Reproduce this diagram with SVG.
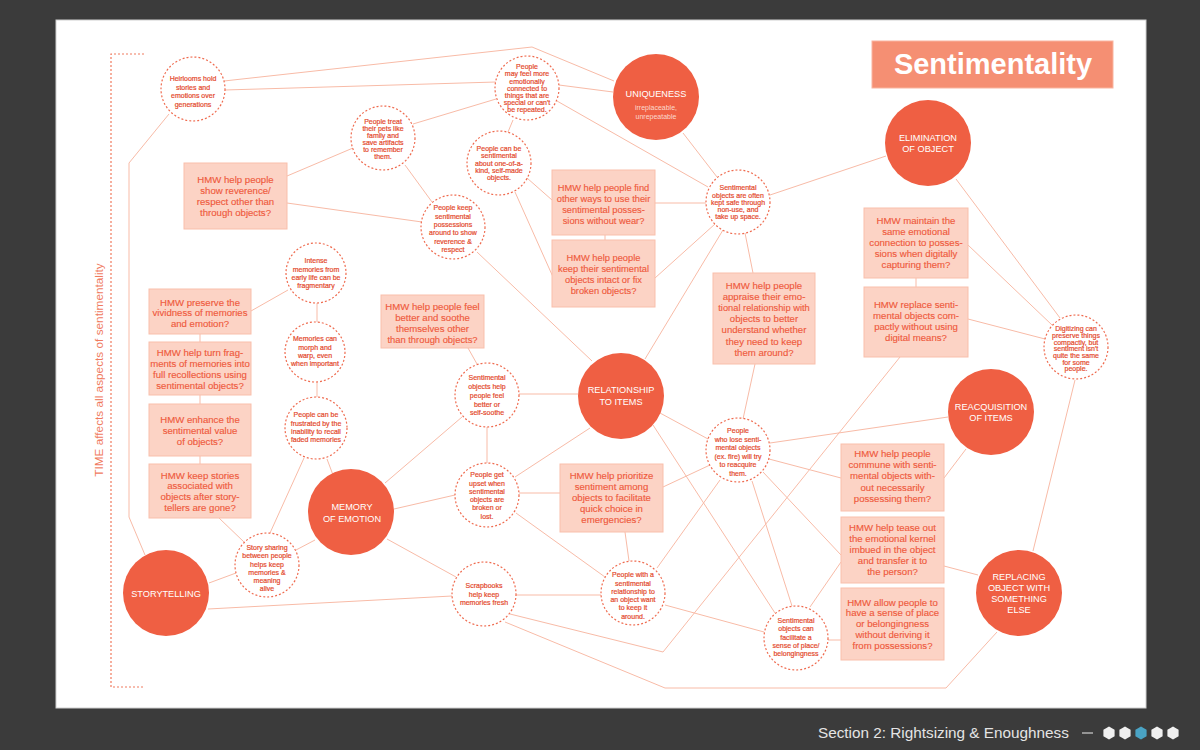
<svg xmlns="http://www.w3.org/2000/svg" width="1200" height="750" viewBox="0 0 1200 750">
<defs>
<style>
.ln{stroke:#f8bba7;stroke-width:1;fill:none}
.big{fill:#ef5f43}
.dc{fill:#fff;stroke:#ef6b4f;stroke-width:1.2;stroke-dasharray:2 2}
.bx{fill:#fcd3c5;stroke:#f9bfab;stroke-width:1}
text{font-family:"Liberation Sans",Arial,sans-serif;text-anchor:middle}
.bt{font-size:9.6px;fill:#ef5a3d;stroke:#ef5a3d;stroke-width:0.15}
.ct{font-size:7px;fill:#e4492d;stroke:#e4492d;stroke-width:0.2}
.wt{font-size:9.2px;fill:#ffffff}
.st{font-size:7px;fill:#fcd9cd}
</style>
</defs>
<rect x="0" y="0" width="1200" height="750" fill="#3b3b3b"/>
<rect x="56" y="20" width="1090" height="688" fill="#ffffff" stroke="#cfcfcf" stroke-width="1"/>

<g id="title">
<rect x="872" y="41" width="241" height="47" fill="#f58f73" stroke="#f9b49f"/>
<text x="993" y="74" style="font-size:29px;font-weight:bold;fill:#fff">Sentimentality</text>
</g>

<g id="time-bracket">
<path d="M144 54 H111 V687 H144" fill="none" stroke="#f07a5e" stroke-width="1.2" stroke-dasharray="2 2"/>
<text transform="translate(103,370) rotate(-90)" style="font-size:11.8px;fill:#f07a5e">TIME affects all aspects of sentimentality</text>
</g>

<g id="connectors">
<polyline class="ln" points="224,81 532,47 614,81"/>
<line class="ln" x1="225" y1="90" x2="496" y2="82"/>
<polyline class="ln" points="169,114 129,163 129,517 145,555"/>
<line class="ln" x1="559" y1="85" x2="613" y2="92"/>
<line class="ln" x1="557" y1="101" x2="708" y2="187"/>
<line class="ln" x1="413" y1="124" x2="496" y2="99"/>
<line class="ln" x1="287" y1="176" x2="353" y2="148"/>
<line class="ln" x1="287" y1="203" x2="422" y2="222"/>
<line class="ln" x1="405" y1="165" x2="432" y2="202"/>
<line class="ln" x1="513" y1="120" x2="508" y2="132"/>
<line class="ln" x1="527" y1="178" x2="552" y2="200"/>
<line class="ln" x1="515" y1="192" x2="553" y2="277"/>
<line class="ln" x1="655" y1="203" x2="706" y2="203"/>
<line class="ln" x1="605" y1="235" x2="605" y2="240"/>
<line class="ln" x1="683" y1="133" x2="717" y2="177"/>
<line class="ln" x1="770" y1="195" x2="886" y2="156"/>
<line class="ln" x1="715" y1="224" x2="655" y2="278"/>
<line class="ln" x1="723" y1="230" x2="645" y2="359"/>
<line class="ln" x1="745" y1="233" x2="753" y2="273"/>
<line class="ln" x1="755" y1="364" x2="743" y2="419"/>
<line class="ln" x1="660" y1="413" x2="708" y2="439"/>
<line class="ln" x1="653" y1="425" x2="775" y2="613"/>
<line class="ln" x1="769" y1="459" x2="841" y2="478"/>
<line class="ln" x1="770" y1="443" x2="948" y2="417"/>
<line class="ln" x1="966" y1="449" x2="944" y2="478"/>
<line class="ln" x1="968" y1="319" x2="1045" y2="339"/>
<line class="ln" x1="968" y1="245" x2="1052" y2="325"/>
<line class="ln" x1="956" y1="179" x2="1060" y2="318"/>
<line class="ln" x1="1075" y1="380" x2="1033" y2="551"/>
<line class="ln" x1="916" y1="278" x2="916" y2="287"/>
<polyline class="ln" points="900,357 663,652 510,614"/>
<polyline class="ln" points="505,622 665,688 946,688 997,632"/>
<line class="ln" x1="665" y1="605" x2="764" y2="632"/>
<line class="ln" x1="657" y1="568" x2="720" y2="480"/>
<line class="ln" x1="629" y1="561" x2="625" y2="532"/>
<line class="ln" x1="516" y1="513" x2="605" y2="577"/>
<line class="ln" x1="516" y1="595" x2="601" y2="595"/>
<line class="ln" x1="710" y1="465" x2="663" y2="487"/>
<line class="ln" x1="752" y1="481" x2="792" y2="606"/>
<line class="ln" x1="763" y1="472" x2="841" y2="555"/>
<line class="ln" x1="841" y1="562" x2="810" y2="607"/>
<line class="ln" x1="828" y1="640" x2="841" y2="640"/>
<line class="ln" x1="944" y1="566" x2="978" y2="575"/>
<line class="ln" x1="519" y1="493" x2="560" y2="493"/>
<line class="ln" x1="515" y1="477" x2="590" y2="428"/>
<line class="ln" x1="487" y1="427" x2="487" y2="463"/>
<line class="ln" x1="519" y1="394" x2="578" y2="394"/>
<line class="ln" x1="477" y1="364" x2="468" y2="348"/>
<line class="ln" x1="462" y1="417" x2="385" y2="483"/>
<line class="ln" x1="455" y1="495" x2="394" y2="509"/>
<line class="ln" x1="387" y1="539" x2="456" y2="577"/>
<line class="ln" x1="452" y1="596" x2="208" y2="609"/>
<line class="ln" x1="477" y1="252" x2="592" y2="361"/>
<line class="ln" x1="251" y1="311" x2="288" y2="290"/>
<line class="ln" x1="317" y1="303" x2="317" y2="322"/>
<line class="ln" x1="317" y1="382" x2="317" y2="397"/>
<line class="ln" x1="327" y1="459" x2="333" y2="475"/>
<line class="ln" x1="304" y1="458" x2="270" y2="533"/>
<line class="ln" x1="296" y1="550" x2="315" y2="540"/>
<line class="ln" x1="236" y1="573" x2="209" y2="583"/>
<line class="ln" x1="219" y1="518" x2="244" y2="542"/>
<line class="ln" x1="200" y1="334" x2="200" y2="342"/>
<line class="ln" x1="200" y1="395" x2="200" y2="404"/>
<line class="ln" x1="200" y1="456" x2="200" y2="464"/>
</g>

<g id="uniqueness"><circle class="big" cx="656" cy="97" r="43"/><text class="wt" x="656" y="97.3">UNIQUENESS</text><text class="st" x="656" y="109.5">irreplaceable,</text><text class="st" x="656" y="118.5">unrepeatable</text></g>
<g id="elimination"><circle class="big" cx="928" cy="143" r="43"/><text class="wt" x="928" y="141.3">ELIMINATION</text><text class="wt" x="928" y="152.3">OF OBJECT</text></g>
<g id="relationship"><circle class="big" cx="621" cy="396" r="43"/><text class="wt" x="621" y="393.3">RELATIONSHIP</text><text class="wt" x="621" y="405.3">TO ITEMS</text></g>
<g id="reacquisition"><circle class="big" cx="991" cy="412" r="43"/><text class="wt" x="991" y="410.3">REACQUISITION</text><text class="wt" x="991" y="421.3">OF ITEMS</text></g>
<g id="memory"><circle class="big" cx="351" cy="512" r="43"/><text class="wt" x="352" y="510.3">MEMORY</text><text class="wt" x="352" y="522.3">OF EMOTION</text></g>
<g id="storytelling"><circle class="big" cx="166" cy="593" r="43"/><text class="wt" x="166" y="597.3">STORYTELLING</text></g>
<g id="replacing"><circle class="big" cx="1019" cy="593" r="43"/><text class="wt" x="1019" y="580.3">REPLACING</text><text class="wt" x="1019" y="591.3">OBJECT WITH</text><text class="wt" x="1019" y="602.3">SOMETHING</text><text class="wt" x="1019" y="613.3">ELSE</text></g>

<g id="heirlooms"><circle class="dc" cx="193" cy="89" r="32"/><text class="ct" x="193" y="81.2">Heirlooms hold</text><text class="ct" x="193" y="89.9">stories and</text><text class="ct" x="193" y="98.2">emotions over</text><text class="ct" x="193" y="106.5">generations</text></g>
<g id="feel-more"><circle class="dc" cx="527" cy="88" r="32"/><text class="ct" x="527" y="69.2">People</text><text class="ct" x="527" y="76.4">may feel more</text><text class="ct" x="527" y="83.6">emotionally</text><text class="ct" x="527" y="90.8">connected to</text><text class="ct" x="527" y="98">things that are</text><text class="ct" x="527" y="105.2">special or can't</text><text class="ct" x="527" y="112.4">be repeated.</text></g>
<g id="pets"><circle class="dc" cx="383" cy="138" r="32"/><text class="ct" x="383" y="124.2">People treat</text><text class="ct" x="383" y="131.2">their pets like</text><text class="ct" x="383" y="138.2">family and</text><text class="ct" x="383" y="145.2">save artifacts</text><text class="ct" x="383" y="152.2">to remember</text><text class="ct" x="383" y="159.2">them.</text></g>
<g id="one-of-a-kind"><circle class="dc" cx="499" cy="163" r="32"/><text class="ct" x="499" y="151.2">People can be</text><text class="ct" x="499" y="158.4">sentimental</text><text class="ct" x="499" y="165.6">about one-of-a-</text><text class="ct" x="499" y="172.8">kind, self-made</text><text class="ct" x="499" y="180">objects.</text></g>
<g id="keep-possessions"><circle class="dc" cx="453" cy="227" r="32"/><text class="ct" x="453" y="210.2">People keep</text><text class="ct" x="453" y="218.6">sentimental</text><text class="ct" x="453" y="227">possessions</text><text class="ct" x="453" y="235.4">around to show</text><text class="ct" x="453" y="243.8">reverence &amp;</text><text class="ct" x="453" y="252.2">respect</text></g>
<g id="kept-safe"><circle class="dc" cx="738" cy="202" r="32"/><text class="ct" x="738" y="190.2">Sentimental</text><text class="ct" x="738" y="197.5">objects are often</text><text class="ct" x="738" y="204.8">kept safe through</text><text class="ct" x="738" y="212.1">non-use, and</text><text class="ct" x="738" y="219.4">take up space.</text></g>
<g id="intense"><circle class="dc" cx="316" cy="273" r="30"/><text class="ct" x="316" y="263.2">Intense</text><text class="ct" x="316" y="271.5">memories from</text><text class="ct" x="316" y="279.8">early life can be</text><text class="ct" x="316" y="288.1">fragmentary</text></g>
<g id="morph"><circle class="dc" cx="315" cy="352" r="30"/><text class="ct" x="315" y="341.2">Memories can</text><text class="ct" x="315" y="349.5">morph and</text><text class="ct" x="315" y="357.8">warp, even</text><text class="ct" x="315" y="366.1">when important</text></g>
<g id="frustrated"><circle class="dc" cx="316" cy="428" r="31"/><text class="ct" x="316" y="417.2">People can be</text><text class="ct" x="316" y="425.5">frustrated by the</text><text class="ct" x="316" y="433.8">inability to recall</text><text class="ct" x="316" y="442.1">faded memories</text></g>
<g id="soothe"><circle class="dc" cx="487" cy="395" r="32"/><text class="ct" x="487" y="380.2">Sentimental</text><text class="ct" x="487" y="389">objects help</text><text class="ct" x="487" y="397.8">people feel</text><text class="ct" x="487" y="406.6">better or</text><text class="ct" x="487" y="415.4">self-soothe</text></g>
<g id="upset"><circle class="dc" cx="487" cy="495" r="32"/><text class="ct" x="487" y="477.2">People get</text><text class="ct" x="487" y="485.5">upset when</text><text class="ct" x="487" y="493.8">sentimental</text><text class="ct" x="487" y="502.1">objects are</text><text class="ct" x="487" y="510.4">broken or</text><text class="ct" x="487" y="518.7">lost.</text></g>
<g id="scrapbooks"><circle class="dc" cx="484" cy="594" r="32"/><text class="ct" x="484" y="588.2">Scrapbooks</text><text class="ct" x="484" y="596.7">help keep</text><text class="ct" x="484" y="605.2">memories fresh</text></g>
<g id="story-sharing"><circle class="dc" cx="267" cy="565" r="32"/><text class="ct" x="267" y="550.2">Story sharing</text><text class="ct" x="267" y="558.4">between people</text><text class="ct" x="267" y="566.6">helps keep</text><text class="ct" x="267" y="574.8">memories &amp;</text><text class="ct" x="267" y="583">meaning</text><text class="ct" x="267" y="591.2">alive</text></g>
<g id="keep-around"><circle class="dc" cx="633" cy="593" r="32"/><text class="ct" x="633" y="577.2">People with a</text><text class="ct" x="633" y="585.5">sentimental</text><text class="ct" x="633" y="593.8">relationship to</text><text class="ct" x="633" y="602.1">an object want</text><text class="ct" x="633" y="610.4">to keep it</text><text class="ct" x="633" y="618.7">around.</text></g>
<g id="sense-of-place"><circle class="dc" cx="796" cy="638" r="32"/><text class="ct" x="796" y="623.2">Sentimental</text><text class="ct" x="796" y="631.4">objects can</text><text class="ct" x="796" y="639.6">facilitate a</text><text class="ct" x="796" y="647.8">sense of place/</text><text class="ct" x="796" y="656">belongingness</text></g>
<g id="lose"><circle class="dc" cx="738" cy="450" r="32"/><text class="ct" x="738" y="433.2">People</text><text class="ct" x="738" y="441.7">who lose senti-</text><text class="ct" x="738" y="450.2">mental objects</text><text class="ct" x="738" y="458.7">(ex. fire) will try</text><text class="ct" x="738" y="467.2">to reacquire</text><text class="ct" x="738" y="475.7">them.</text></g>
<g id="digitizing"><circle class="dc" cx="1076" cy="347" r="32"/><text class="ct" x="1076" y="331.2">Digitizing can</text><text class="ct" x="1076" y="337.9">preserve things</text><text class="ct" x="1076" y="344.6">compactly, but</text><text class="ct" x="1076" y="351.3">sentiment isn't</text><text class="ct" x="1076" y="358">quite the same</text><text class="ct" x="1076" y="364.7">for some</text><text class="ct" x="1076" y="371.4">people.</text></g>

<g id="hmw-reverence"><rect class="bx" x="184" y="163" width="103" height="66"/><text class="bt" x="235.5" y="183">HMW help people</text><text class="bt" x="235.5" y="194">show reverence/</text><text class="bt" x="235.5" y="205">respect other than</text><text class="bt" x="235.5" y="216">through objects?</text></g>
<g id="hmw-other-ways"><rect class="bx" x="552" y="170" width="103" height="65"/><text class="bt" x="603.5" y="190.5" style="font-size:9.3px">HMW help people find</text><text class="bt" x="603.5" y="201.8" style="font-size:9.3px">other ways to use their</text><text class="bt" x="603.5" y="213" style="font-size:9.3px">sentimental posses-</text><text class="bt" x="603.5" y="224.3" style="font-size:9.3px">sions without wear?</text></g>
<g id="hmw-intact"><rect class="bx" x="552" y="240" width="103" height="67"/><text class="bt" x="603.5" y="260.5" style="font-size:9.3px">HMW help people</text><text class="bt" x="603.5" y="271.5" style="font-size:9.3px">keep their sentimental</text><text class="bt" x="603.5" y="282.5" style="font-size:9.3px">objects intact or fix</text><text class="bt" x="603.5" y="293.5" style="font-size:9.3px">broken objects?</text></g>
<g id="hmw-appraise"><rect class="bx" x="713" y="273" width="102" height="91"/><text class="bt" x="764" y="288.5">HMW help people</text><text class="bt" x="764" y="299.7">appraise their emo-</text><text class="bt" x="764" y="310.9" style="font-size:9.3px">tional relationship with</text><text class="bt" x="764" y="322.1">objects to better</text><text class="bt" x="764" y="333.3">understand whether</text><text class="bt" x="764" y="344.5">they need to keep</text><text class="bt" x="764" y="355.7">them around?</text></g>
<g id="hmw-maintain"><rect class="bx" x="864" y="208" width="104" height="70"/><text class="bt" x="916" y="223.5">HMW maintain the</text><text class="bt" x="916" y="234.5">same emotional</text><text class="bt" x="916" y="245.5">connection to posses-</text><text class="bt" x="916" y="256.5">sions when digitally</text><text class="bt" x="916" y="267.5">capturing them?</text></g>
<g id="hmw-replace"><rect class="bx" x="864" y="287" width="104" height="70"/><text class="bt" x="916" y="307.5">HMW replace senti-</text><text class="bt" x="916" y="318.8">mental objects com-</text><text class="bt" x="916" y="330">pactly without using</text><text class="bt" x="916" y="341.3">digital means?</text></g>
<g id="hmw-commune"><rect class="bx" x="841" y="444" width="103" height="67"/><text class="bt" x="892.5" y="456.5">HMW help people</text><text class="bt" x="892.5" y="468">commune with senti-</text><text class="bt" x="892.5" y="479.3">mental objects with-</text><text class="bt" x="892.5" y="490.6">out necessarily</text><text class="bt" x="892.5" y="502">possessing them?</text></g>
<g id="hmw-tease"><rect class="bx" x="841" y="517" width="103" height="66"/><text class="bt" x="892.5" y="530.5">HMW help tease out</text><text class="bt" x="892.5" y="541.5">the emotional kernel</text><text class="bt" x="892.5" y="552.5">imbued in the object</text><text class="bt" x="892.5" y="563.5">and transfer it to</text><text class="bt" x="892.5" y="574.5">the person?</text></g>
<g id="hmw-allow"><rect class="bx" x="841" y="588" width="103" height="72"/><text class="bt" x="892.5" y="605.5">HMW allow people to</text><text class="bt" x="892.5" y="616.3">have a sense of place</text><text class="bt" x="892.5" y="627">or belongingness</text><text class="bt" x="892.5" y="637.8">without deriving it</text><text class="bt" x="892.5" y="648.6">from possessions?</text></g>
<g id="hmw-prioritize"><rect class="bx" x="560" y="464" width="103" height="68"/><text class="bt" x="611.5" y="478.5">HMW help prioritize</text><text class="bt" x="611.5" y="489.7">sentiment among</text><text class="bt" x="611.5" y="500.9">objects to facilitate</text><text class="bt" x="611.5" y="512.1">quick choice in</text><text class="bt" x="611.5" y="523.3">emergencies?</text></g>
<g id="hmw-feel-better"><rect class="bx" x="381" y="295" width="103" height="53"/><text class="bt" x="432.5" y="309.5">HMW help people feel</text><text class="bt" x="432.5" y="320.5">better and soothe</text><text class="bt" x="432.5" y="331.5">themselves other</text><text class="bt" x="432.5" y="342.5" style="font-size:9.4px">than through objects?</text></g>
<g id="hmw-preserve"><rect class="bx" x="149" y="289" width="102" height="45"/><text class="bt" x="200" y="305.5">HMW preserve the</text><text class="bt" x="200" y="316">vividness of memories</text><text class="bt" x="200" y="326.5">and emotion?</text></g>
<g id="hmw-fragments"><rect class="bx" x="149" y="342" width="102" height="53"/><text class="bt" x="200" y="355.5">HMW help turn frag-</text><text class="bt" x="200" y="366.5">ments of memories into</text><text class="bt" x="200" y="377.5">full recollections using</text><text class="bt" x="200" y="388.5">sentimental objects?</text></g>
<g id="hmw-enhance"><rect class="bx" x="149" y="404" width="102" height="52"/><text class="bt" x="200" y="422.5">HMW enhance the</text><text class="bt" x="200" y="433.5">sentimental value</text><text class="bt" x="200" y="444.5">of objects?</text></g>
<g id="hmw-stories"><rect class="bx" x="149" y="464" width="102" height="54"/><text class="bt" x="200" y="478.5">HMW keep stories</text><text class="bt" x="200" y="489">associated with</text><text class="bt" x="200" y="499.5">objects after story-</text><text class="bt" x="200" y="510.5">tellers are gone?</text></g>

<g id="footer">
<text x="818" y="738" style="font-size:15.3px;fill:#e4e4e4;text-anchor:start">Section 2: Rightsizing &amp; Enoughness</text>
<line x1="1082" y1="733" x2="1093" y2="733" stroke="#d0d0d0" stroke-width="1.2"/>
<polygon points="1109,726.5 1114.6,729.8 1114.6,736.2 1109,739.5 1103.4,736.2 1103.4,729.8" fill="#f0f0f0"/>
<polygon points="1125,726.5 1130.6,729.8 1130.6,736.2 1125,739.5 1119.4,736.2 1119.4,729.8" fill="#f0f0f0"/>
<polygon points="1141,726.5 1146.6,729.8 1146.6,736.2 1141,739.5 1135.4,736.2 1135.4,729.8" fill="#4aa3c4"/>
<polygon points="1157,726.5 1162.6,729.8 1162.6,736.2 1157,739.5 1151.4,736.2 1151.4,729.8" fill="#f0f0f0"/>
<polygon points="1173,726.5 1178.6,729.8 1178.6,736.2 1173,739.5 1167.4,736.2 1167.4,729.8" fill="#f0f0f0"/>
</g>
</svg>
